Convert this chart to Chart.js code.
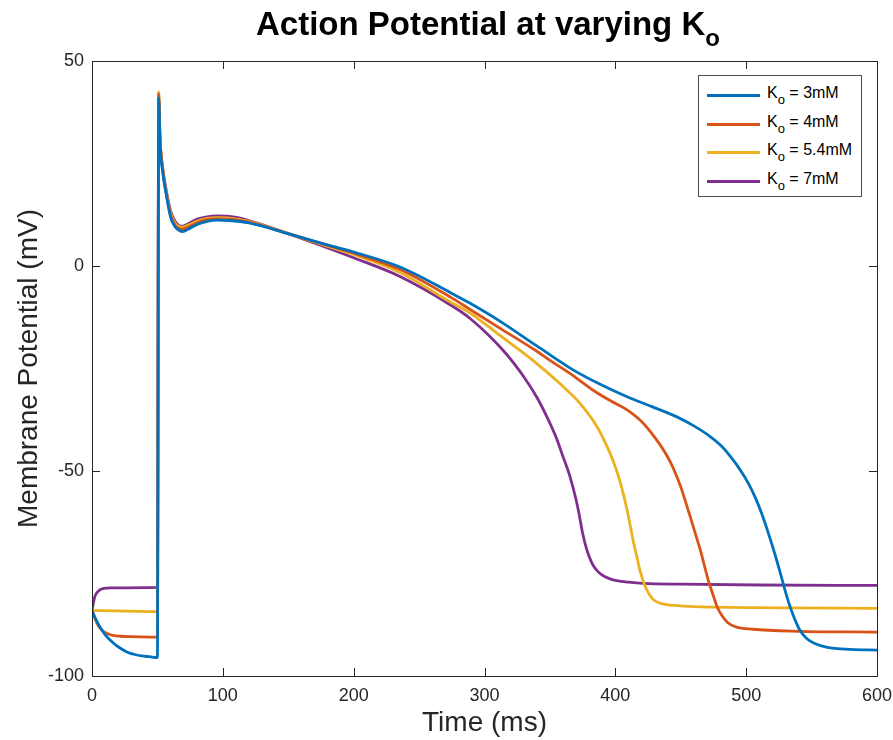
<!DOCTYPE html>
<html>
<head>
<meta charset="utf-8">
<script src="https://cdn.jsdelivr.net/npm/chart.js@4.4.1/dist/chart.umd.min.js"></script>
<style>
  html, body { margin: 0; padding: 0; background: #ffffff; }
  #wrap { position: relative; width: 893px; height: 740px; font-family: 'Liberation Sans', Arial, sans-serif; }
  #titulo { position: absolute; left: 0; width: 976px; top: 8px; text-align: center; font-size: 33px; line-height: 32px; font-weight: bold; color: #000; white-space: nowrap; }
  #titulo .sub { font-size: 24px; vertical-align: -11px; }
  #leyenda { position: absolute; left: 698px; top: 75px; width: 164px; height: 122px; border: 1px solid #4d4d4d; background: #fff; box-sizing: border-box; padding-top: 5px; }
  .fila { display: flex; align-items: center; height: 28.7px; font-size: 16px; color: #000; }
  .linea { width: 53px; height: 3px; margin-left: 8px; margin-right: 7px; }
  .fila .sub { font-size: 13px; vertical-align: -6px; }
</style>
</head>
<body>
<div id="wrap">
  <canvas id="grafico" width="893" height="740"></canvas>
  <div id="titulo">Action Potential at varying K<span class="sub">o</span></div>
  <div id="leyenda"></div>
</div>
<script>
// Series: concentracion de potasio extracelular
const concentraciones = ['3mM', '4mM', '5.4mM', '7mM'];
const colores = ['#0072BD', '#D95319', '#EDB120', '#7E2F8E'];

// Ticks de los ejes
const ticksX = [0, 100, 200, 300, 400, 500, 600];
const ticksY = [-100, -50, 0, 50];

// Ko = 3mM
const tiempoK3 = [0, 3, 6, 10, 14, 18, 22, 27, 32, 38, 44, 50, 51, 52, 54, 57, 60, 63, 66, 69, 73, 80, 88, 95, 105, 120, 150, 175, 200, 235, 274, 289, 312, 340, 368, 388, 409, 428, 447, 460, 472.5, 482, 490, 496, 502, 507, 512, 517, 522, 526, 531, 534, 538, 541, 546, 552, 562, 580, 600];
const voltajeK3 = [-84, -86.2, -88, -89.9, -91.3, -92.4, -93.3, -94.2, -94.7, -95.1, -95.3, -95.5, 41, 30, 23, 17, 12, 9.8, 8.8, 8.4, 8.9, 10.1, 10.9, 11.2, 11.1, 10.5, 7.9, 5.6, 3.4, -0.2, -6.5, -9.1, -13.5, -19.5, -25.4, -28.8, -31.9, -34.3, -36.8, -39, -41.6, -44.2, -47.3, -50, -53.2, -56.5, -60.5, -65.2, -70.3, -74.8, -80.5, -83.5, -86.8, -88.8, -90.8, -92, -93, -93.5, -93.7];

// Ko = 4mM
const tiempoK4 = [0, 2, 4, 6, 9, 12, 16, 22, 30, 50, 51, 52, 54, 57, 60, 63, 66, 69, 73, 80, 88, 95, 105, 120, 150, 175, 200, 235, 274, 289, 312, 340, 350, 368, 383, 397, 409, 421.5, 434, 438, 442, 446, 449.6, 453, 457, 461, 465, 471, 475, 478, 482, 486, 492, 505, 540, 600];
const voltajeK4 = [-84, -85.8, -87.2, -88.3, -89.2, -89.7, -90.1, -90.3, -90.4, -90.5, 42, 31, 23.5, 17.3, 12.5, 10.2, 9.2, 9, 9.4, 10.5, 11.3, 11.5, 11.4, 10.7, 7.9, 5.5, 3.1, -0.8, -7.6, -10.6, -15.2, -20.8, -23, -26.8, -30.3, -33, -35.1, -38.4, -43.5, -45.5, -47.8, -50.6, -53.5, -56.8, -60.9, -65.1, -69.3, -76.6, -80.5, -83.3, -85.5, -87, -88, -88.6, -89.1, -89.3];

// Ko = 5.4mM
const tiempoK54 = [0, 50, 51, 52, 54, 57, 60, 63, 66, 69, 73, 80, 88, 95, 105, 120, 150, 175, 200, 235, 274, 289, 312, 340, 358, 373, 386, 396, 400, 404, 409, 414, 416.5, 419, 422, 425.4, 428, 431, 436, 445, 460, 500, 600];
const voltajeK54 = [-84, -84.3, 42.5, 31.5, 23.8, 17.6, 13, 10.7, 9.7, 9.5, 9.9, 10.9, 11.6, 11.8, 11.7, 10.9, 7.9, 5.3, 2.8, -1.5, -8.8, -11.5, -17, -23.8, -28.8, -33.5, -39.2, -45.7, -49, -53, -59.5, -67.6, -71, -74.5, -77.5, -79.8, -81, -81.8, -82.4, -82.8, -83.1, -83.3, -83.5];

// Ko = 7mM
const tiempoK7 = [0, 2, 3.5, 6, 9, 14, 50, 51, 52, 54, 57, 60, 63, 66, 69, 73, 80, 88, 95, 105, 120, 150, 175, 200, 235, 274, 289, 314, 330, 340, 348, 355, 360, 365, 370, 372, 375, 378, 380.5, 383, 386, 390, 395, 400, 410, 421.5, 450, 510, 600];
const voltajeK7 = [-84, -80.8, -79.8, -79, -78.6, -78.5, -78.4, 40.5, 30.7, 24, 18, 13.5, 11.2, 10, 9.7, 10.2, 11.4, 12, 12.2, 12.1, 11.1, 7.9, 5, 2, -2.5, -9.5, -12.8, -20.5, -27, -32, -37, -42, -46.5, -51, -57, -60, -65.2, -69, -71.3, -73, -74.3, -75.4, -76.2, -76.7, -77.1, -77.4, -77.6, -77.8, -77.9];

const tiempos = [tiempoK3, tiempoK4, tiempoK54, tiempoK7];
const voltajes = [voltajeK3, voltajeK4, voltajeK54, voltajeK7];

const colorEje = '#262626';

// Leyenda en HTML para poder usar el subindice
const leyenda = document.getElementById('leyenda');
concentraciones.forEach((c, i) => {
    const fila = document.createElement('div');
    fila.className = 'fila';
    fila.innerHTML = `<span class="linea" style="background:${colores[i]}"></span><span>K<span class="sub">o</span> = ${c}</span>`;
    leyenda.appendChild(fila);
});

// Caja del grafico y ticks hacia adentro (estilo MATLAB)
const cajaPlugin = {
    id: 'caja',
    afterDatasetsDraw(chart) {
        const { ctx, chartArea: a, scales } = chart;
        const largo = 8;
        ctx.save();
        ctx.strokeStyle = colorEje;
        ctx.lineWidth = 1;
        ctx.beginPath();
        ticksX.forEach(v => {
            const x = Math.round(scales.x.getPixelForValue(v)) + 0.5;
            ctx.moveTo(x, a.bottom); ctx.lineTo(x, a.bottom - largo);
            ctx.moveTo(x, a.top); ctx.lineTo(x, a.top + largo);
        });
        ticksY.forEach(v => {
            const y = Math.round(scales.y.getPixelForValue(v)) + 0.5;
            ctx.moveTo(a.left, y); ctx.lineTo(a.left + largo, y);
            ctx.moveTo(a.right, y); ctx.lineTo(a.right - largo, y);
        });
        ctx.stroke();
        ctx.strokeRect(Math.round(a.left) + 0.5, Math.round(a.top) + 0.5, Math.round(a.right - a.left), Math.round(a.bottom - a.top));
        ctx.restore();
    }
};

const ctx = document.getElementById('grafico').getContext('2d');
new Chart(ctx, {
    type: 'line',
    data: {
        datasets: concentraciones.map((c, i) => ({
            label: 'Kₒ = ' + c,
            data: tiempos[i].map((t, j) => ({ x: t, y: voltajes[i][j] })),
            borderColor: colores[i],
            backgroundColor: colores[i],
            borderWidth: 2.8,
            pointRadius: 0,
            cubicInterpolationMode: 'monotone',
            fill: false
        }))
    },
    options: {
        responsive: false,
        animation: false,
        layout: { padding: { left: 0, right: 16, top: 61, bottom: 0 } },
        scales: {
            x: {
                type: 'linear',
                min: 0,
                max: 600,
                afterBuildTicks: s => { s.ticks = ticksX.map(v => ({ value: v })); },
                afterFit: s => { s.height = 64; s.paddingLeft = 0; s.paddingRight = 0; },
                grid: { display: false, drawTicks: false },
                border: { display: false },
                ticks: { color: colorEje, padding: 9, font: { family: 'Liberation Sans', size: 18 } },
                title: { display: true, text: 'Time (ms)', color: colorEje, padding: { top: 0, bottom: 0 }, font: { family: 'Liberation Sans', size: 28, lineHeight: 1.2 } }
            },
            y: {
                min: -100,
                max: 50,
                afterBuildTicks: s => { s.ticks = ticksY.map(v => ({ value: v })); },
                afterFit: s => { s.width = 92; s.paddingTop = 0; s.paddingBottom = 0; },
                grid: { display: false, drawTicks: false },
                border: { display: false },
                ticks: { color: colorEje, padding: 8, font: { family: 'Liberation Sans', size: 18 } },
                title: { display: true, text: 'Membrane Potential (mV)', color: colorEje, padding: { top: 12, bottom: 0 }, font: { family: 'Liberation Sans', size: 28, lineHeight: 1.2 } }
            }
        },
        plugins: {
            legend: { display: false },
            tooltip: { enabled: false }
        }
    },
    plugins: [cajaPlugin]
});
</script>
</body>
</html>
